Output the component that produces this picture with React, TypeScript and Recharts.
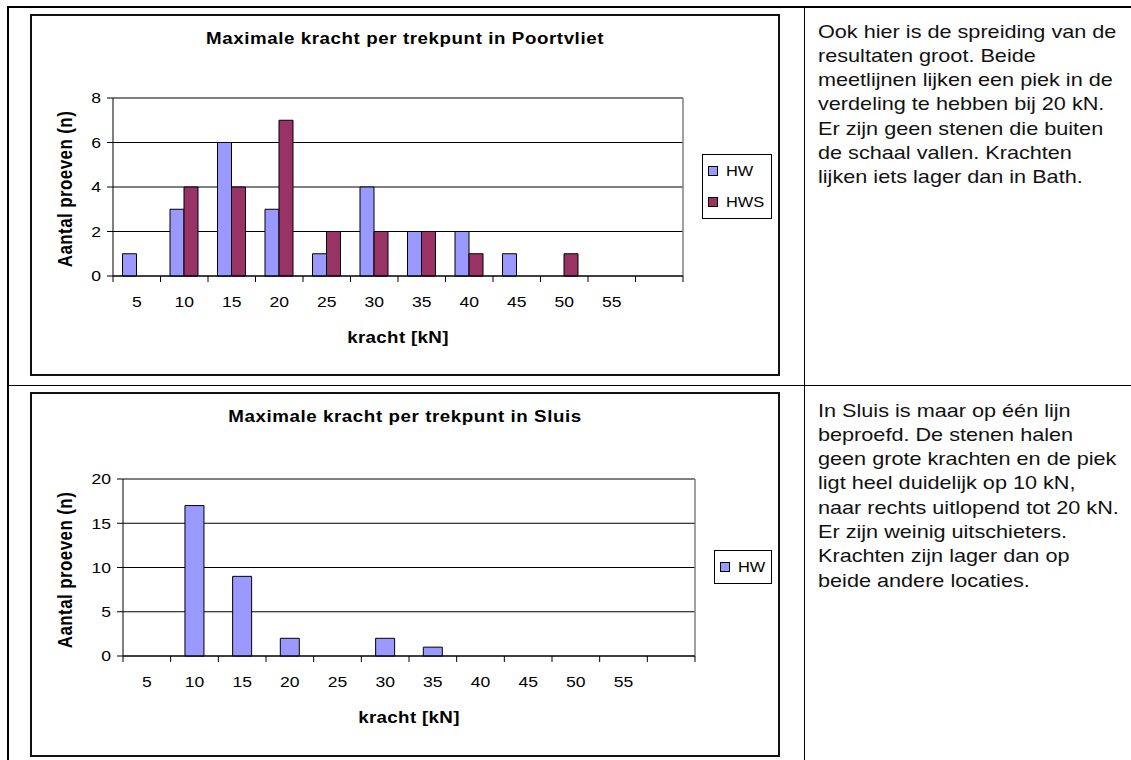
import { BarChart, Bar, XAxis, YAxis, CartesianGrid, ReferenceLine } from "recharts";

const categories = ["5", "10", "15", "20", "25", "30", "35", "40", "45", "50", "55", ""];
const poortvlietHW = [1, 3, 6, 3, 1, 4, 2, 2, 1, 0, 0, 0];
const poortvlietHWS = [0, 4, 4, 7, 2, 2, 2, 1, 0, 1, 0, 0];
const sluisHW = [0, 17, 9, 2, 0, 2, 1, 0, 0, 0, 0, 0];
const poortvlietYTicks = [0, 2, 4, 6, 8];
const sluisYTicks = [0, 5, 10, 15, 20];

const poortvlietText = [
  "Ook hier is de spreiding van de",
  "resultaten groot. Beide",
  "meetlijnen lijken een piek in de",
  "verdeling te hebben bij 20 kN.",
  "Er zijn geen stenen die buiten",
  "de schaal vallen. Krachten",
  "lijken iets lager dan in Bath.",
];
const sluisText = [
  "In Sluis is maar op één lijn",
  "beproefd. De stenen halen",
  "geen grote krachten en de piek",
  "ligt heel duidelijk op 10 kN,",
  "naar rechts uitlopend tot 20 kN.",
  "Er zijn weinig uitschieters.",
  "Krachten zijn lager dan op",
  "beide andere locaties.",
];

const FONT = '"Liberation Sans", Arial, Helvetica, sans-serif';
// the scanned page is wider than it is tall, so text gets stretched sideways
const SX = 1.17;
const Y_AXIS_W = 50;
const X_AXIS_H = 30;

interface Series {
  key: string;
  name: string;
  color: string;
  values: number[];
}

interface PanelProps {
  title: string;
  series: Series[];
  yTicks: number[];
  left: number;
  top: number;
  width: number;
  height: number;
  margin: { top: number; right: number; bottom: number; left: number };
  legend: { left: number; top: number; width: number; height: number };
  gap: string;
}

function ChartPanel({ title, series, yTicks, left, top, width, height, margin, legend, gap }: PanelProps) {
  const data = categories.map((c, i) => {
    const row: Record<string, string | number> = { kracht: c };
    series.forEach((s) => {
      row[s.key] = s.values[i];
    });
    return row;
  });

  const plotLeft = left + margin.left + Y_AXIS_W;
  const plotRight = left + width - margin.right;
  const plotTop = top + margin.top;
  const plotBottom = top + height - margin.bottom - X_AXIS_H;
  const band = (plotRight - plotLeft) / categories.length;
  const yMax = yTicks[yTicks.length - 1];

  const xTick = (props: any) => {
    const { x, y, index, payload } = props;
    return (
      <g>
        <line x1={x - band / 2} y1={y} x2={x - band / 2} y2={y + 6} stroke="#000" />
        {index === categories.length - 1 && (
          <line x1={x + band / 2} y1={y} x2={x + band / 2} y2={y + 6} stroke="#000" />
        )}
        <text
          transform={`translate(${x},${y + 26}) scale(${SX},1)`}
          textAnchor="middle"
          dy="0.36em"
          fontSize={15}
          fontFamily={FONT}
          fill="#000"
        >
          {payload.value}
        </text>
      </g>
    );
  };

  const yTick = (props: any) => {
    const { x, y, payload } = props;
    return (
      <text
        transform={`translate(${x},${y}) scale(${SX},1)`}
        textAnchor="end"
        dy="0.36em"
        fontSize={15}
        fontFamily={FONT}
        fill="#000"
      >
        {payload.value}
      </text>
    );
  };

  return (
    <>
      <div
        style={{
          position: "absolute",
          left: left - 1,
          top: top - 1,
          width: width + 2,
          height: height + 2,
          border: "2px solid #111",
          boxSizing: "border-box",
        }}
      />
      <div style={{ position: "absolute", left, top }}>
        <BarChart
          width={width}
          height={height}
          data={data}
          margin={margin}
          barCategoryGap={gap}
          barGap={0}
        >
          <CartesianGrid vertical={false} stroke="#000" />
          {/* right edge of the plot area, grey like the top edge */}
          <CartesianGrid
            horizontal={false}
            stroke="#808080"
            strokeWidth={1.5}
            verticalCoordinatesGenerator={({ offset }: any) => [offset.left + offset.width]}
          />
          <XAxis
            dataKey="kracht"
            height={X_AXIS_H}
            interval={0}
            tickLine={false}
            tickSize={0}
            tickMargin={0}
            axisLine={{ stroke: "#000" }}
            tick={xTick}
          />
          <YAxis
            width={Y_AXIS_W}
            domain={[0, yMax]}
            ticks={yTicks}
            interval={0}
            tickSize={6}
            tickMargin={6}
            axisLine={{ stroke: "#000" }}
            tickLine={{ stroke: "#000" }}
            tick={yTick}
          />
          <ReferenceLine y={yMax} stroke="#808080" strokeWidth={1.5} />
          {series.map((s) => (
            <Bar
              key={s.key}
              dataKey={s.key}
              name={s.name}
              fill={s.color}
              stroke="#000"
              strokeWidth={1}
              isAnimationActive={false}
            />
          ))}
        </BarChart>
      </div>

      <div
        style={{
          position: "absolute",
          left: left + width / 2,
          top: top + 24,
          transform: `translate(-50%, -50%) scaleX(${SX})`,
          whiteSpace: "nowrap",
          fontWeight: "bold",
          fontSize: 16,
          letterSpacing: 0.5,
        }}
      >
        {title}
      </div>

      <div
        style={{
          position: "absolute",
          left: (plotLeft + plotRight) / 2,
          top: plotBottom + 62,
          transform: `translate(-50%, -50%) scaleX(${SX})`,
          whiteSpace: "nowrap",
          fontWeight: "bold",
          fontSize: 16,
          letterSpacing: 0.3,
        }}
      >
        kracht [kN]
      </div>

      <div
        style={{
          position: "absolute",
          left: 66,
          top: (plotTop + plotBottom) / 2 + 2,
          transform: `translate(-50%, -50%) scaleX(${SX}) rotate(-90deg)`,
          whiteSpace: "nowrap",
          fontWeight: "bold",
          fontSize: 17,
          letterSpacing: 0.4,
        }}
      >
        Aantal proeven (n)
      </div>

      <div
        style={{
          position: "absolute",
          left: legend.left,
          top: legend.top,
          width: legend.width,
          height: legend.height,
          border: "1px solid #000",
          boxSizing: "border-box",
          paddingTop: (legend.height - 2 - series.length * 31) / 2,
          background: "#fff",
        }}
      >
        {series.map((s) => (
          <div key={s.key} style={{ height: 31, display: "flex", alignItems: "center" }}>
            <div
              style={{
                width: 8,
                height: 8,
                marginLeft: 5,
                background: s.color,
                border: "1px solid #000",
              }}
            />
            <div
              style={{
                marginLeft: 8,
                fontSize: 14,
                transform: `scaleX(${SX})`,
                transformOrigin: "left center",
              }}
            >
              {s.name}
            </div>
          </div>
        ))}
      </div>
    </>
  );
}

function TextBlock({ lines, top }: { lines: string[]; top: number }) {
  return (
    <>
      {lines.map((line, i) => (
        <div
          key={i}
          style={{
            position: "absolute",
            left: 818,
            top: top + i * 24.3,
            height: 24.3,
            lineHeight: "24.3px",
            fontSize: 18.5,
            color: "#111",
            whiteSpace: "nowrap",
            transform: `scaleX(${SX})`,
            transformOrigin: "left center",
          }}
        >
          {line}
        </div>
      ))}
    </>
  );
}

export default function App() {
  return (
    <div
      style={{
        position: "absolute",
        left: 0,
        top: 0,
        width: 1131,
        height: 760,
        overflow: "hidden",
        background: "#fff",
        fontFamily: FONT,
        color: "#000",
      }}
    >
      {/* table lines */}
      <div style={{ position: "absolute", left: 7, top: 6, width: 1124, height: 2, background: "#000" }} />
      <div style={{ position: "absolute", left: 7, top: 6, width: 2, height: 754, background: "#000" }} />
      <div style={{ position: "absolute", left: 804, top: 6, width: 1, height: 754, background: "#000" }} />
      <div style={{ position: "absolute", left: 7, top: 385, width: 1124, height: 1, background: "#000" }} />

      <ChartPanel
        title="Maximale kracht per trekpunt in Poortvliet"
        series={[
          { key: "hw", name: "HW", color: "#9999FF", values: poortvlietHW },
          { key: "hws", name: "HWS", color: "#993366", values: poortvlietHWS },
        ]}
        yTicks={poortvlietYTicks}
        left={31}
        top={15}
        width={748}
        height={360}
        margin={{ top: 83, right: 96, bottom: 69, left: 32 }}
        legend={{ left: 702, top: 154, width: 70, height: 65 }}
        gap="20%"
      />
      <TextBlock lines={poortvlietText} top={19.5} />

      <ChartPanel
        title="Maximale kracht per trekpunt in Sluis"
        series={[{ key: "hw", name: "HW", color: "#9999FF", values: sluisHW }]}
        yTicks={sluisYTicks}
        left={31}
        top={393}
        width={748}
        height={363}
        margin={{ top: 86, right: 84, bottom: 70, left: 42 }}
        legend={{ left: 714, top: 550, width: 58, height: 34 }}
        gap="30%"
      />
      <TextBlock lines={sluisText} top={398.5} />
    </div>
  );
}
